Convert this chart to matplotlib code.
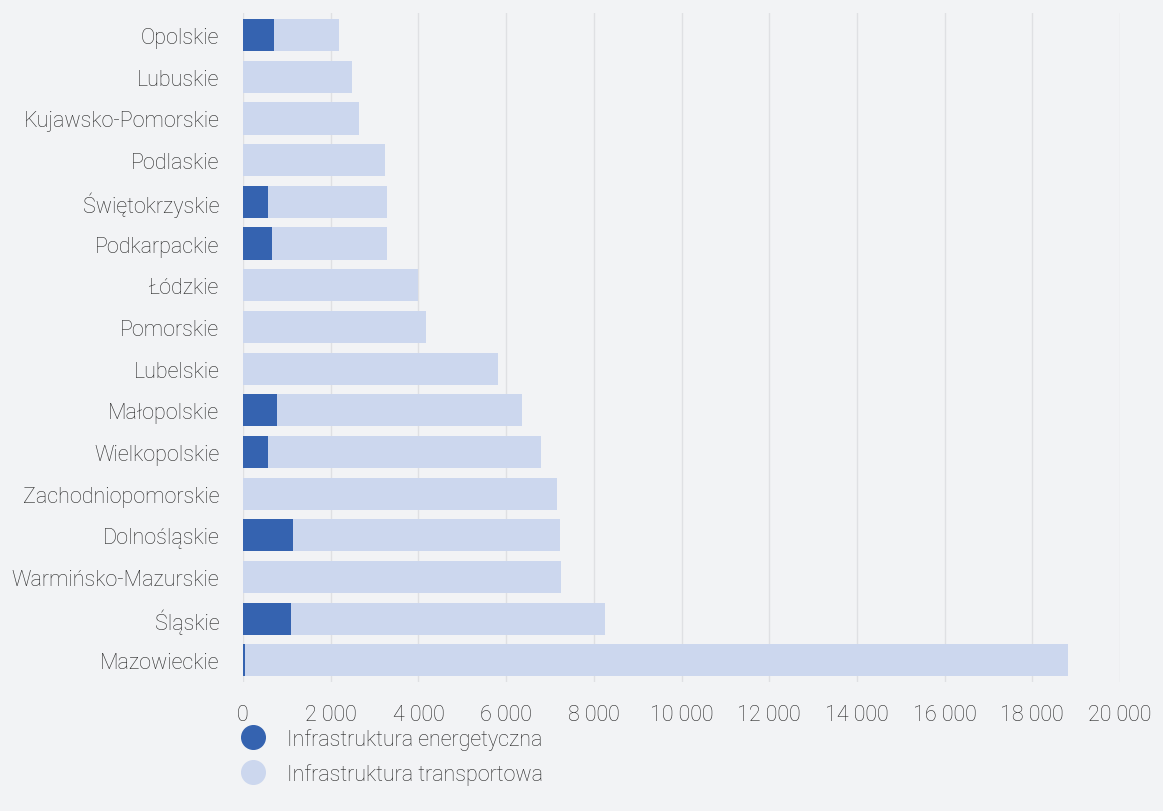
import numpy as np
import matplotlib.pyplot as plt
from matplotlib.lines import Line2D

regions = ['Opolskie', 'Lubuskie', 'Kujawsko-Pomorskie', 'Podlaskie', 'Świętokrzyskie',
           'Podkarpackie', 'Łódzkie', 'Pomorskie', 'Lubelskie', 'Małopolskie',
           'Wielkopolskie', 'Zachodniopomorskie', 'Dolnośląskie', 'Warmińsko-Mazurskie',
           'Śląskie', 'Mazowieckie']
energy = [700, 0, 0, 0, 570, 660, 0, 0, 0, 775, 570, 0, 1140, 0, 1100, 40]
total = [2190, 2490, 2650, 3240, 3280, 3280, 3990, 4170, 5810, 6360, 6800, 7160, 7230, 7250, 8260, 18810]
transport = [t - e for t, e in zip(total, energy)]
ticks = list(range(0, 20001, 2000))
labels_legend = ['Infrastruktura energetyczna', 'Infrastruktura transportowa']

dark = '#3563b0'
light = '#ccd7ee'
bg = '#f2f3f5'
txt = '#262626'

plt.rcParams['font.family'] = ['Roboto', 'DejaVu Sans']
plt.rcParams['font.weight'] = 'light'

fig = plt.figure(figsize=(11.63, 8.12), dpi=100, facecolor=bg)
ax = fig.add_axes([243 / 1163, 1 - 683 / 812, (1120 - 243) / 1163, (683 - 14) / 812])
ax.set_facecolor(bg)

y = np.arange(len(regions))
ax.barh(y, energy, height=0.77, color=dark, zorder=3)
ax.barh(y, transport, left=energy, height=0.77, color=light, zorder=3)

ax.set_xlim(0, 20000)
ax.set_ylim(len(regions) - 0.48, -0.53)
ax.set_xticks(ticks)
ax.set_xticklabels([f'{t:,}'.replace(',', ' ') for t in ticks])
ax.set_yticks(y)
ax.set_yticklabels(regions)
ax.tick_params(axis='x', length=0, pad=16, labelsize=15.5, labelcolor=txt)
ax.tick_params(axis='y', length=0, pad=17, labelsize=15.5, labelcolor=txt)
ax.grid(axis='x', color='#dfe0e3', linewidth=1, zorder=0)
for s in ax.spines.values():
    s.set_visible(False)

handles = [Line2D([], [], marker='o', linestyle='none', markersize=17, color=c) for c in (dark, light)]
fig.legend(handles, labels_legend, loc='upper left', bbox_to_anchor=(231 / 1163, 1 - 729 / 812),
           frameon=False, fontsize=15.5, labelcolor=txt, handletextpad=0.6, labelspacing=0.62,
           borderaxespad=0, borderpad=0)

fig.savefig('out.png', dpi=100, facecolor=bg)
